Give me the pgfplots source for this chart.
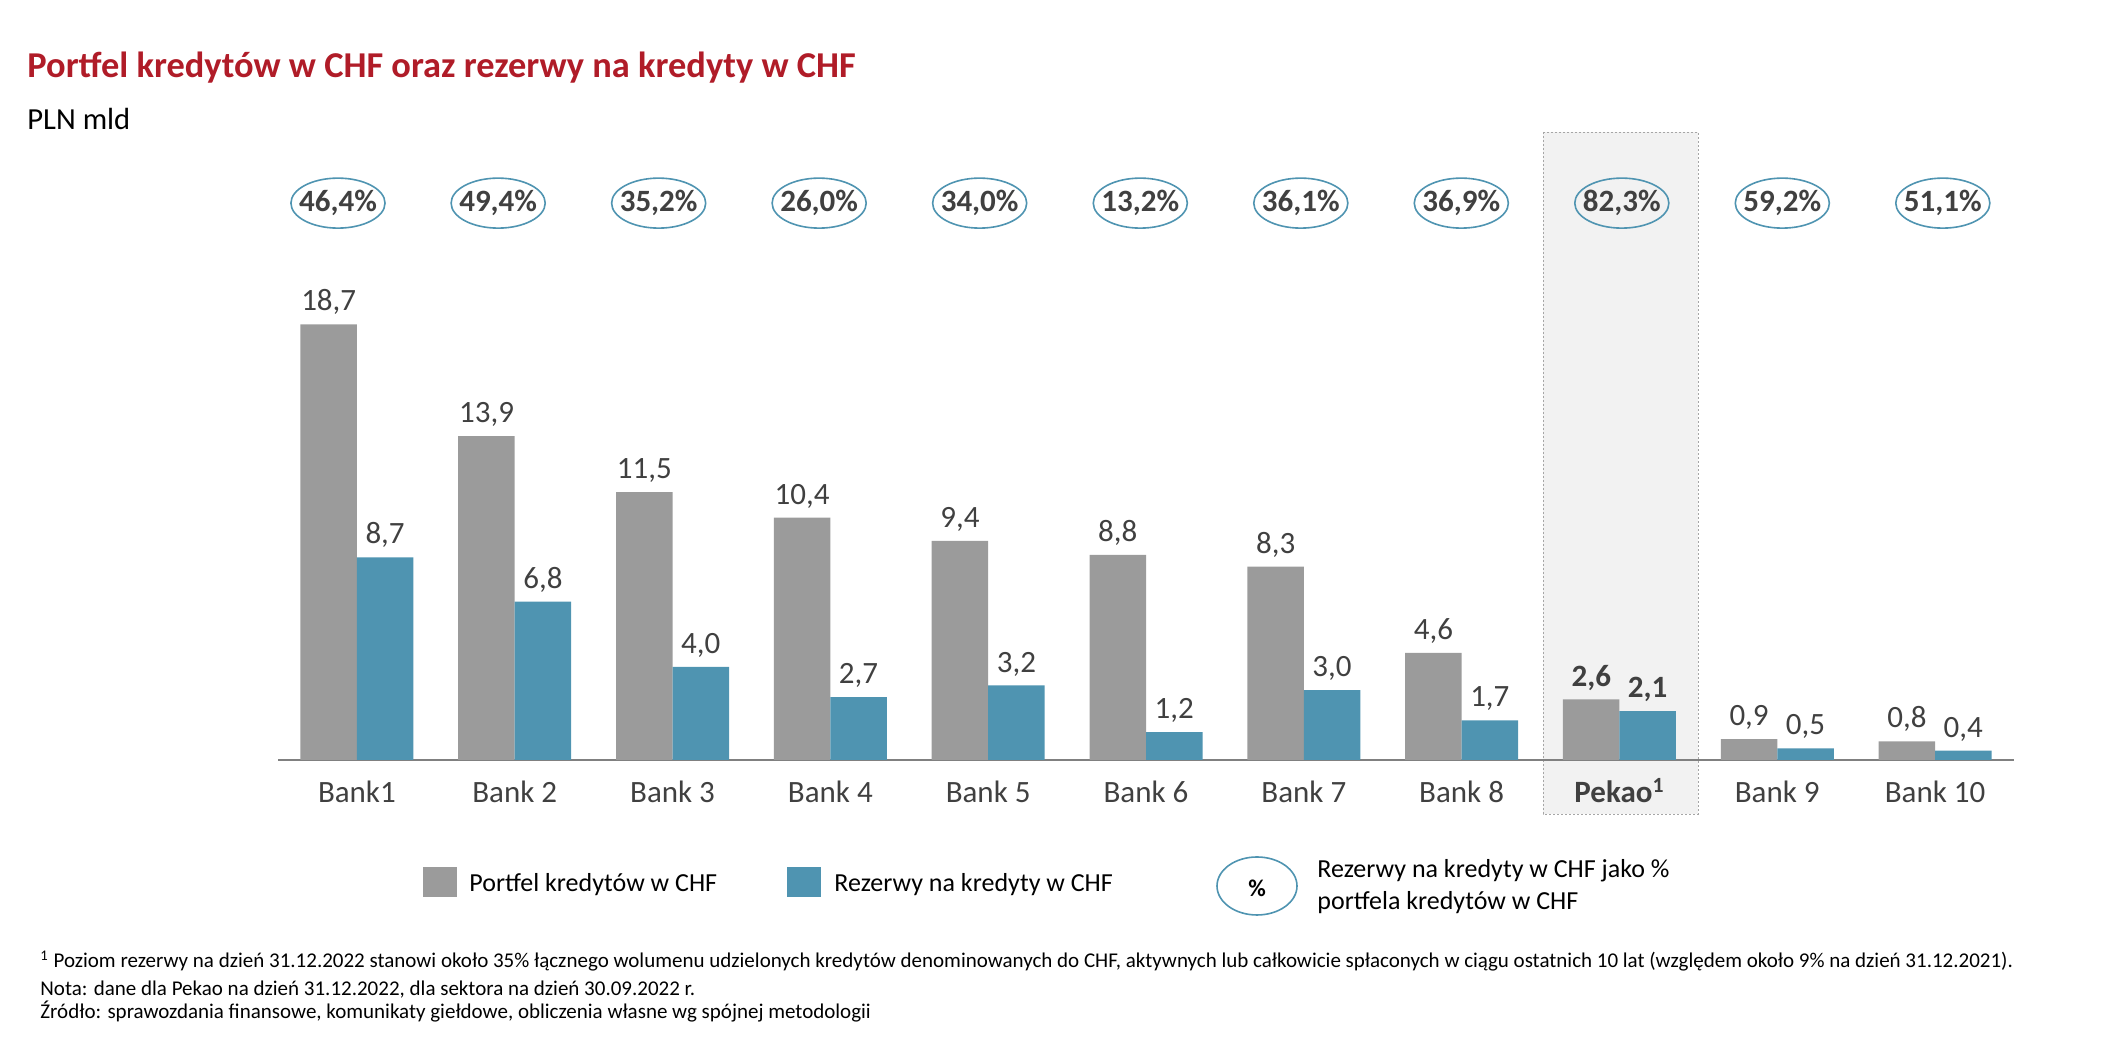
\documentclass[border=0pt]{standalone}
\usepackage{pgfplots}
\pgfplotsset{compat=1.18}
\usepackage{pgfplotstable}
\usepackage{fontspec}
\setmainfont{Carlito}
\usetikzlibrary{shapes.geometric}
\definecolor{cgray}{RGB}{155,155,155}
\definecolor{cblue}{RGB}{79,148,177}
\definecolor{ctitle}{RGB}{176,28,40}
\definecolor{ctext}{RGB}{64,64,64}
\newcommand\labfont{\fontsize{15.5}{18}\selectfont}
\newcommand\pctfont{\bfseries\fontsize{15.5}{19}\selectfont}

\pgfplotstableread{
x y
0 18.7
1 13.9
2 11.5
3 10.4
4 9.4
5 8.8
6 8.3
7 4.6
8 2.6
9 0.9
10 0.8
}\portfel

\pgfplotstableread{
x y
0 8.7
1 6.8
2 4.0
3 2.7
4 3.2
5 1.2
6 3.0
7 1.7
8 2.1
9 0.5
10 0.4
}\rezerwy

\pgfplotstableread{
x pos r
-0.12 23.9 46.4
0.895 23.9 49.4
1.912 23.9 35.2
2.929 23.9 26.0
3.946 23.9 34.0
4.964 23.9 13.2
5.981 23.9 36.1
6.998 23.9 36.9
8.015 23.9 82.3
9.032 23.9 59.2
10.049 23.9 51.1
}\ratio

\begin{document}
\begin{tikzpicture}
\path[use as bounding box] (0,0) rectangle (1053pt,527pt);
\begin{scope}[x=0.5pt, y=-0.5pt, shift={(0pt,527pt)}]
  \draw[fill=black!5, draw=black!35, dash pattern=on 1pt off 1pt]
    (1543,132) rectangle (1698,814);
\end{scope}
\begin{axis}[
  at={(139pt,147pt)}, anchor=south west, scale only axis,
  width=868pt, height=233pt,
  xmin=-0.5, xmax=10.5, ymin=0, ymax=20,
  hide y axis, axis x line*=bottom,
  axis line style={draw=black!50, line width=0.8pt, -},
  xtick={0,...,10}, xtick style={draw=none}, major tick length=0pt,
  xticklabels={Bank1, Bank 2, Bank 3, Bank 4, Bank 5, Bank 6, Bank 7, Bank 8,
    {\bfseries Pekao\textsuperscript{1}}, Bank 9, Bank 10},
  xticklabel style={anchor=base, yshift=-21.5pt, text=ctext, font=\labfont},
  clip=false,
  /pgf/number format/assume math mode=true,
  /pgf/number format/use comma,
  /pgf/number format/fixed,
  /pgf/number format/fixed zerofill,
  /pgf/number format/precision=1,
]
\addplot[ybar, bar width=0.358, bar shift=-0.179, fill=cgray, draw=none,
  nodes near coords={\ifnum\coordindex=8 \bfseries\fi\pgfmathprintnumber{\pgfplotspointmeta}},
  every node near coord/.append style={text=ctext, font=\labfont, inner ysep=6.5pt, text depth=0pt, xshift=-14.1pt}]
  table[x=x, y=y] {\portfel};

\addplot[ybar, bar width=0.358, bar shift=0.179, fill=cblue, draw=none,
  nodes near coords={\ifnum\coordindex=8 \bfseries\fi\pgfmathprintnumber{\pgfplotspointmeta}},
  every node near coord/.append style={text=ctext, font=\labfont, inner ysep=6.5pt, text depth=0pt, xshift=14.1pt}]
  table[x=x, y=y] {\rezerwy};

\addplot[draw=none, mark=none, point meta=explicit,
  nodes near coords={\pgfmathprintnumber{\pgfplotspointmeta}\%},
  every node near coord/.append style={anchor=center, ellipse, draw=cblue, line width=0.8pt,
     text=ctext, font=\pctfont, inner xsep=-2.8pt, inner ysep=0pt, minimum height=25pt}]
  table[x=x, y=pos, meta=r] {\ratio};
\end{axis}

\begin{scope}[x=0.5pt, y=-0.5pt, shift={(0pt,527pt)}]
  \node[anchor=base west, inner sep=0pt, text=ctitle, font=\bfseries\fontsize{18.2}{22}\selectfont]
    at (27,78) {Portfel kredytów w CHF oraz rezerwy na kredyty w CHF};
  \node[anchor=base west, inner sep=0pt, font=\fontsize{15.3}{18}\selectfont]
    at (27,130) {PLN mld};
  % legend
  \fill[cgray] (423,867) rectangle (457,897);
  \node[anchor=base west, inner sep=0pt, font=\fontsize{13}{16}\selectfont] at (469,892) {Portfel kredytów w CHF};
  \fill[cblue] (787,867) rectangle (821,897);
  \node[anchor=base west, inner sep=0pt, font=\fontsize{13}{16}\selectfont] at (834,892) {Rezerwy na kredyty w CHF};
  \draw[cblue, line width=0.8pt] (1257,886) ellipse (20pt and 14.5pt);
  \node[font=\bfseries\fontsize{12}{14}\selectfont] at (1257,888) {\%};
  \node[anchor=base west, inner sep=0pt, font=\fontsize{13}{16}\selectfont] at (1317,878) {Rezerwy na kredyty w CHF jako \%};
  \node[anchor=base west, inner sep=0pt, font=\fontsize{13}{16}\selectfont] at (1317,910) {portfela kredytów w CHF};
  % footnotes
  \node[anchor=base west, inner sep=0pt, font=\fontsize{10.5}{13}\selectfont] at (40,968)
    {\textsuperscript{1} Poziom rezerwy na dzień 31.12.2022 stanowi około 35\% łącznego wolumenu udzielonych kredytów denominowanych do CHF, aktywnych lub całkowicie spłaconych w ciągu ostatnich 10 lat (względem około 9\% na dzień 31.12.2021).};
  \node[anchor=base west, inner sep=0pt, font=\fontsize{10.5}{13}\selectfont] at (40,996)
    {Nota: dane dla Pekao na dzień 31.12.2022, dla sektora na dzień 30.09.2022 r.};
  \node[anchor=base west, inner sep=0pt, font=\fontsize{10.5}{13}\selectfont] at (40,1019)
    {Źródło: sprawozdania finansowe, komunikaty giełdowe, obliczenia własne wg spójnej metodologii};
\end{scope}
\end{tikzpicture}
\end{document}
